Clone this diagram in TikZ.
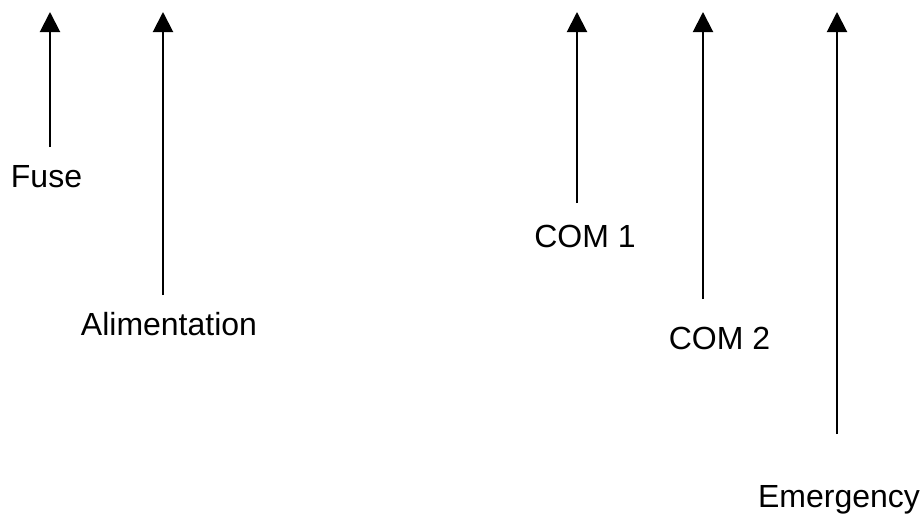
\documentclass[tikz,border=0pt]{standalone}
\usepackage{fontspec}
\setmainfont{Liberation Sans}
\usetikzlibrary{arrows.meta}
\begin{document}
\begin{tikzpicture}[x=1pt,y=-1pt,
  lbl/.style={inner sep=0pt, anchor=base, font=\fontsize{32}{38}\selectfont},
  arr/.style={line width=2pt, -{Triangle[length=20pt,width=20pt]}}]
\useasboundingbox (0,0) rectangle (924,517);
% labels
\node[lbl] (fuse) at (46.5,187) {Fuse};
\node[lbl] (alim) at (169,335) {Alimentation};
\node[lbl] (com1) at (585,247) {COM 1};
\node[lbl] (com2) at (719.5,349) {COM 2};
\node[lbl] (emer) at (839,507) {Emergency};
% arrow ends
\coordinate (fuseB) at (50,147);  \coordinate (fuseT) at (50,12);
\coordinate (alimB) at (163,295); \coordinate (alimT) at (163,12);
\coordinate (com1B) at (577,203); \coordinate (com1T) at (577,12);
\coordinate (com2B) at (703,299); \coordinate (com2T) at (703,12);
\coordinate (emerB) at (837,434); \coordinate (emerT) at (837,12);
\draw[arr] (fuseB) -- (fuseT);
\draw[arr] (alimB) -- (alimT);
\draw[arr] (com1B) -- (com1T);
\draw[arr] (com2B) -- (com2T);
\draw[arr] (emerB) -- (emerT);
\end{tikzpicture}
\end{document}
